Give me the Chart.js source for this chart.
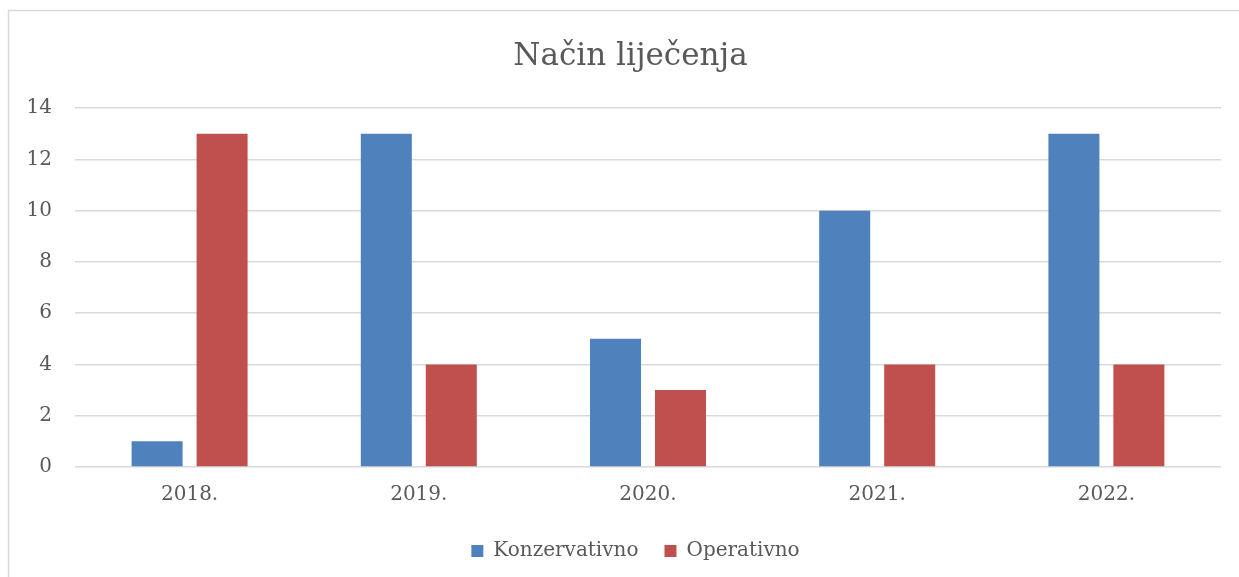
<!DOCTYPE html>
<html>
<head>
<meta charset="utf-8">
<script src="https://cdn.jsdelivr.net/npm/chart.js@4/dist/chart.umd.min.js"></script>
<style>
  html, body { margin: 0; padding: 0; background: #fff; overflow: hidden; }
  #wrap { width: 1239px; height: 577px; position: relative; }
</style>
</head>
<body>
<div id="wrap"><canvas id="chart" width="1239" height="577"></canvas></div>
<script>
// Data
const years = ['2018.', '2019.', '2020.', '2021.', '2022.'];
const konzervativno = [1, 13, 5, 10, 13];
const operativno = [13, 4, 3, 4, 4];
const yTicks = [0, 2, 4, 6, 8, 10, 12, 14];

const textColor = '#595959';
const gridColor = '#d9d9d9';
const fontFamily = '"DejaVu Serif", serif';

// Outer frame of the chart box (left and top edges are visible)
const frame = {
    id: 'frame',
    beforeDraw(chart) {
        const ctx = chart.ctx;
        ctx.save();
        ctx.strokeStyle = gridColor;
        ctx.lineWidth = 1.5;
        ctx.beginPath();
        ctx.moveTo(8.5, chart.height + 5);
        ctx.lineTo(8.5, 10.5);
        ctx.lineTo(chart.width + 5, 10.5);
        ctx.stroke();
        ctx.restore();
    }
};

// Center title and legend a bit to the right, like the plot area
const nudge = {
    id: 'nudge',
    afterLayout(chart) {
        chart.titleBlock.left += 20;
        chart.titleBlock.right += 20;
        chart.legend.left += 25;
        chart.legend.right += 25;
    }
};

new Chart(document.getElementById('chart'), {
    type: 'bar',
    data: {
        labels: years,
        datasets: [{
            label: 'Konzervativno',
            data: konzervativno,
            backgroundColor: '#4F81BD'
        }, {
            label: 'Operativno',
            data: operativno,
            backgroundColor: '#C0504D'
        }]
    },
    options: {
        responsive: false,
        animation: false,
        categoryPercentage: 0.567,
        barPercentage: 0.785,
        layout: {
            padding: { left: 0, right: 18, top: 28, bottom: 6 }
        },
        plugins: {
            title: {
                display: true,
                text: 'Način liječenja',
                color: textColor,
                font: { family: fontFamily, size: 31, weight: 'normal' },
                padding: { top: 10, bottom: 33 }
            },
            legend: {
                position: 'bottom',
                labels: {
                    color: textColor,
                    font: { family: fontFamily, size: 20 },
                    boxWidth: 12,
                    boxHeight: 12,
                    padding: 26
                }
            },
            tooltip: { enabled: false }
        },
        scales: {
            x: {
                grid: { display: false },
                border: { display: false },
                ticks: {
                    color: textColor,
                    font: { family: fontFamily, size: 20 },
                    padding: 8
                }
            },
            y: {
                min: 0,
                max: 14,
                afterBuildTicks(scale) {
                    scale.ticks = yTicks.map(v => ({ value: v }));
                },
                afterFit(scale) {
                    scale.width = 75;
                },
                grid: {
                    color: gridColor,
                    lineWidth: 1.5,
                    drawTicks: false
                },
                border: { display: false },
                ticks: {
                    color: textColor,
                    font: { family: fontFamily, size: 20 },
                    padding: 23
                }
            }
        }
    },
    plugins: [frame, nudge]
});
</script>
</body>
</html>
